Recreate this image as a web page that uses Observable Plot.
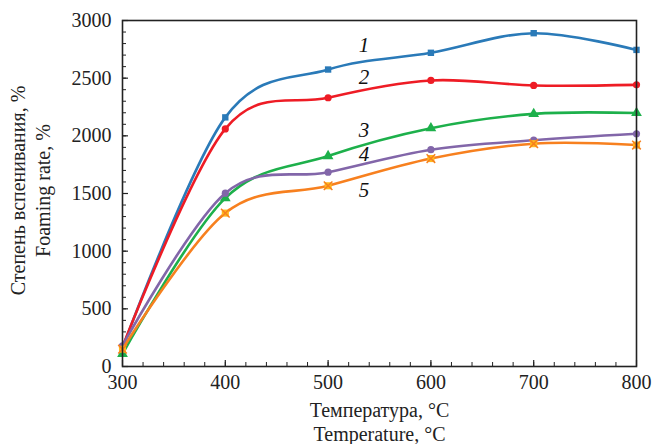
<!DOCTYPE html>
<html>
<head>
<meta charset="utf-8">
<script src="https://cdn.jsdelivr.net/npm/d3@7"></script>
<script src="https://cdn.jsdelivr.net/npm/@observablehq/plot@0.6"></script>
<style>
  html, body { margin: 0; padding: 0; background: #fff; }
</style>
</head>
<body>
<div id="chart"></div>
<script>
const temperatures = [300, 400, 500, 600, 700, 800];
const seriesNames = ["1", "2", "3", "4", "5"];
const series1 = [160, 2160, 2575, 2720, 2890, 2745];
const series2 = [170, 2060, 2330, 2480, 2437, 2442];
const series3 = [110, 1460, 1825, 2066, 2190, 2198];
const series4 = [180, 1503, 1685, 1880, 1962, 2018];
const series5 = [150, 1330, 1567, 1803, 1932, 1920];
const seriesColors = ["#2a7ab8", "#ee1c25", "#1db04b", "#8266a9", "#f7801f"];
const seriesSymbols = ["square", "circle", "triangle", "circle", "square"];
const xTicks = [300, 400, 500, 600, 700, 800];
const yTicks = [0, 500, 1000, 1500, 2000, 2500, 3000];
const xMinorTicks = d3.range(300, 801, 20);
const yMinorTicks = d3.range(0, 3001, 100);
// label anchors for curve numbers (data coordinates)
const labelX = [535, 535, 535, 535, 535];
const labelY = [2785, 2505, 2045, 1838, 1525];

const allSeries = [series1, series2, series3, series4, series5];
const rows = [];
allSeries.forEach((vals, i) => vals.forEach((v, j) => rows.push({series: seriesNames[i], t: temperatures[j], v})));
const labels = seriesNames.map((s, i) => ({series: s, x: labelX[i], y: labelY[i]}));

const W = 653, H = 444;
const mL = 122, mR = 17, mT = 20, mB = 78;
const plotH = H - mT - mB;
const plotW = W - mL - mR;

const marks = [];
// inward minor and major ticks
marks.push(Plot.tickX(xMinorTicks, {x: d => d, insetTop: plotH - 4, stroke: "#222", strokeWidth: 1}));
marks.push(Plot.tickX(xTicks, {x: d => d, insetTop: plotH - 6, stroke: "#222", strokeWidth: 1.2}));
marks.push(Plot.tickY(yMinorTicks, {y: d => d, insetRight: plotW - 4, stroke: "#222", strokeWidth: 1}));
marks.push(Plot.tickY(yTicks, {y: d => d, insetRight: plotW - 6, stroke: "#222", strokeWidth: 1.2}));

seriesNames.forEach((s, i) => {
  const data = rows.filter(r => r.series === s);
  marks.push(Plot.line(data, {x: "t", y: "v", stroke: seriesColors[i], strokeWidth: 2.6, curve: "cardinal"}));
  if (i === 4) {
    marks.push(Plot.dot(data, {x: "t", y: "v", symbol: "square", r: 4, fill: "#ffb81c", stroke: "none"}));
    marks.push(Plot.dot(data, {x: "t", y: "v", symbol: "times", r: 4, stroke: seriesColors[i], strokeWidth: 1.5}));
  } else {
    marks.push(Plot.dot(data, {x: "t", y: "v", symbol: seriesSymbols[i], r: i === 2 ? 4 : 3.6, fill: seriesColors[i], stroke: "none"}));
  }
});

marks.push(Plot.text(labels, {x: "x", y: "y", text: "series", fontStyle: "italic", fontSize: 21, fill: "#111"}));

marks.push(Plot.axisX(xTicks, {tickSize: 0, tickPadding: 8, label: null, fontSize: 20, fill: "#222", tickFormat: d => String(d)}));
marks.push(Plot.axisY(yTicks, {tickSize: 0, tickPadding: 11, label: null, fontSize: 20, fill: "#222", tickFormat: d => String(d)}));

marks.push(Plot.text(["Температура, °С"], {frameAnchor: "bottom", dy: 44, lineAnchor: "middle", fontSize: 20, fill: "#222"}));
marks.push(Plot.text(["Temperature, °C"], {frameAnchor: "bottom", dy: 68, lineAnchor: "middle", fontSize: 20, fill: "#222"}));
marks.push(Plot.text(["Степень вспенивания, %"], {frameAnchor: "left", dx: -104, dy: -3, rotate: -90, textAnchor: "middle", lineAnchor: "middle", fontSize: 20, fill: "#222"}));
marks.push(Plot.text(["Foaming rate, %"], {frameAnchor: "left", dx: -79, dy: -3, rotate: -90, textAnchor: "middle", lineAnchor: "middle", fontSize: 20, fill: "#222"}));

marks.push(Plot.frame({stroke: "#222", strokeWidth: 1.6}));

const chart = Plot.plot({
  width: W,
  height: H,
  marginLeft: mL,
  marginRight: mR,
  marginTop: mT,
  marginBottom: mB,
  x: {domain: [300, 800]},
  y: {domain: [0, 3000]},
  style: {fontFamily: "'Liberation Serif', 'Times New Roman', serif", fontSize: "20px", background: "#fff", overflow: "visible"},
  marks
});
document.getElementById("chart").appendChild(chart);
</script>
</body>
</html>
